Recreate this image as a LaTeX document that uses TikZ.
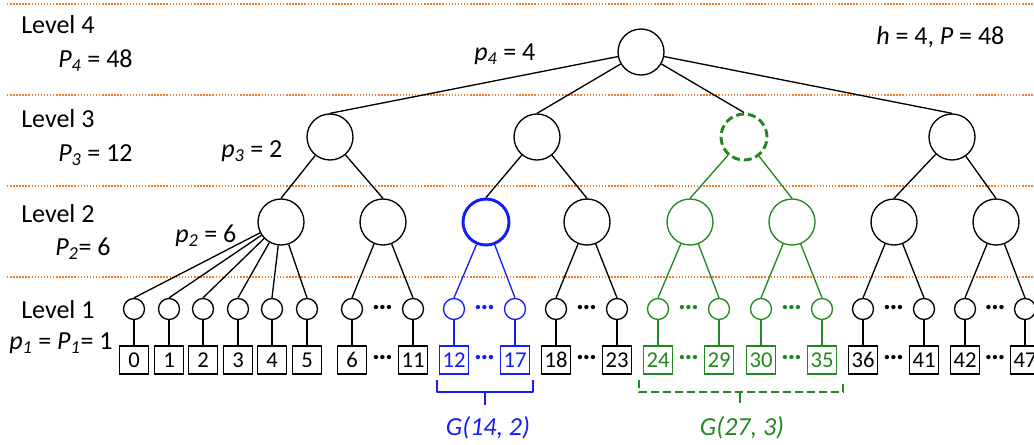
\documentclass[tikz,border=0pt]{standalone}
\usepackage{fontspec}
\setmainfont{Carlito}
\usetikzlibrary{shadows}
\definecolor{orangeline}{RGB}{237,125,49}
\definecolor{gblue}{RGB}{20,30,245}
\definecolor{ggreen}{RGB}{35,135,35}
\newcommand\mysub[1]{\textsubscript{\itshape #1}}
\begin{document}
\begin{tikzpicture}[x=0.75pt,y=-0.75pt,
  every node/.style={font=\fontsize{19.5}{23}\selectfont},
  big/.style={circle,draw,line width=1pt,minimum size=34.5pt,inner sep=0pt,fill=white},
  small/.style={circle,draw,line width=1pt,minimum size=15.75pt,inner sep=0pt,fill=white},
  leafbox/.style={rectangle,draw,line width=1pt,minimum width=21.5pt,minimum height=21pt,inner sep=0pt,fill=white,
     font=\fontsize{17}{19}\selectfont,
     drop shadow={shadow xshift=0.8pt,shadow yshift=-0.8pt,opacity=0.25}},
  edge/.style={line width=1pt},
  sep/.style={orangeline,line width=1.7pt,dash pattern=on 1.1pt off 1.2pt},
  dotsnode/.style={font=\fontsize{22}{24}\selectfont\bfseries,inner sep=0pt},
  lbl/.style={anchor=base west,inner sep=0pt},
  brace/.style={line width=2.2pt},
]
\useasboundingbox (0,0) rectangle (1034,444);
% separators
\foreach \yy in {4,95,186,277} {\draw[sep] (7,\yy) -- (1034,\yy);}

% labels
\node[lbl] (t4) at (21,33) {Level 4};
\node[lbl] (P4) at (58,67) {\textit{P}\mysub{4} = 48};
\node[lbl] (t3) at (21,127) {Level 3};
\node[lbl] (P3) at (58,161) {\textit{P}\mysub{3} = 12};
\node[lbl] (q3) at (221,157) {\textit{p}\mysub{3} = 2};
\node[lbl] (t2) at (21,222) {Level 2};
\node[lbl] (P2) at (55,255) {\textit{P}\mysub{2}= 6};
\node[lbl] (q2) at (175,242) {\textit{p}\mysub{2} = 6};
\node[lbl] (t1) at (21,318) {Level 1};
\node[lbl] (P1) at (9,349) {\textit{p}\mysub{1} = \textit{P}\mysub{1}= 1};
\node[lbl] (q4) at (474,60) {\textit{p}\mysub{4} = 4};
\node[lbl] (hh) at (876,44) {\textit{h} = 4, \textit{P} = 48};

% tree nodes
\node[big] (R) at (641,52) {};
\node[big] (A1) at (330,137) {};
\node[big] (A2) at (537,137) {};
\node[big,draw=ggreen,line width=2.2pt,dash pattern=on 6pt off 3pt] (A3) at (744,137) {};
\node[big] (A4) at (952,137) {};
\node[big] (B1) at (281,222) {};
\node[big] (B2) at (383,222) {};
\node[big,draw=gblue,line width=2.2pt] (B3) at (486,222) {};
\node[big] (B4) at (587,222) {};
\node[big,draw=ggreen] (B5) at (690,222) {};
\node[big,draw=ggreen] (B6) at (792,222) {};
\node[big] (B7) at (894,222) {};
\node[big] (B8) at (996,222) {};

\foreach \ch in {A1,A2,A3,A4} {\draw[edge] (R) -- (\ch.north);}
\draw[edge] (A1) -- (B1.north);
\draw[edge] (A1) -- (B2.north);
\draw[edge] (A2) -- (B3.north);
\draw[edge] (A2) -- (B4.north);
\draw[edge,ggreen] (A3) -- (B5.north);
\draw[edge,ggreen] (A3) -- (B6.north);
\draw[edge] (A4) -- (B7.north);
\draw[edge] (A4) -- (B8.north);

% first group
\foreach \n/\xx in {0/134,1/169,2/203,3/238,4/272,5/307} {
  \node[small] (l\n) at (\xx,309) {};
  \node[leafbox] (b\n) at (\xx,360) {\n};
  \draw[edge] (B1) -- (l\n.north);
  \draw[edge] (l\n) -- (b\n);
}
% other groups
\foreach \pp/\xa/\xb/\na/\nb/\col in {B2/352/413/6/11/black, B3/454/515/12/17/gblue, B4/556/617/18/23/black, B5/658/719/24/29/ggreen, B6/761/822/30/35/ggreen, B7/863/924/36/41/black, B8/965/1025/42/47/black} {
  \node[small,draw=\col] (l\na) at (\xa,309) {};
  \node[small,draw=\col] (l\nb) at (\xb,309) {};
  \node[leafbox,draw=\col,text=\col] (b\na) at (\xa,360) {\na};
  \node[leafbox,draw=\col,text=\col] (b\nb) at (\xb,360) {\nb};
  \draw[edge,\col] (\pp) -- (l\na.north);
  \draw[edge,\col] (\pp) -- (l\nb.north);
  \draw[edge,\col] (l\na) -- (b\na);
  \draw[edge,\col] (l\nb) -- (b\nb);
  \node[dotsnode,text=\col] (dc\na) at ({(\xa+\xb)/2},308) {…};
  \node[dotsnode,text=\col] (db\na) at ({(\xa+\xb)/2},358) {…};
}

% braces
\draw[brace,gblue,line join=round] (437,380) -- (437,392) -- (533,392) -- (533,380);
\draw[brace,gblue] (485,392) -- (485,405);
\node[anchor=base,text=gblue,font=\fontsize{19.5}{23}\selectfont\itshape] (G1) at (488,435) {G(14, 2)};
\draw[brace,ggreen,dash pattern=on 6pt off 3pt] (639,380) -- (639,392) -- (843,392) -- (843,380);
\draw[brace,ggreen] (740,392) -- (740,403);
\node[anchor=base,text=ggreen,font=\fontsize{19.5}{23}\selectfont\itshape] (G2) at (742,435) {G(27, 3)};
\end{tikzpicture}
\end{document}
